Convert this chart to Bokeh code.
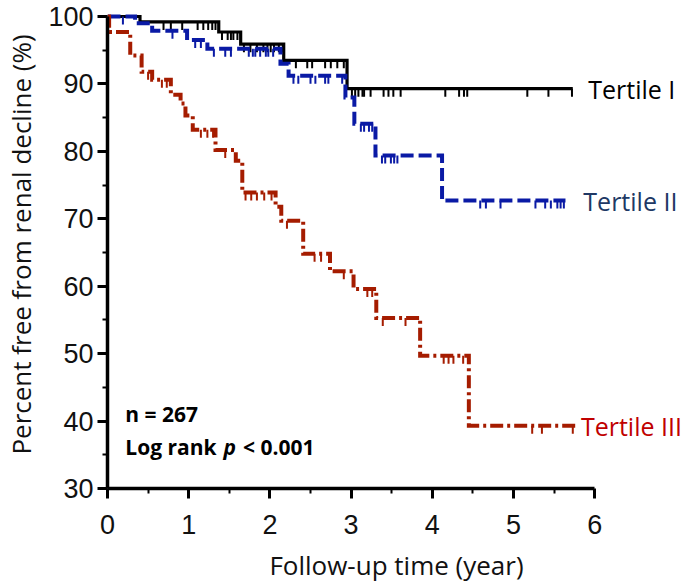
from bokeh.plotting import figure
from bokeh.models import Range1d, FixedTicker, Label
from bokeh.embed import file_html
from bokeh.resources import INLINE

# ---------------- data ----------------
# Tertile I (black, solid)
t1_times = [0.0, 0.40, 1.37, 1.64, 2.17, 2.95]
t1_surv = [100.0, 99.2, 97.7, 95.9, 93.5, 89.3]
t1_end = 5.73
t1_censor = [0.69, 0.78, 0.92, 1.11, 1.18, 1.24, 1.29, 1.33,
             1.41, 1.48, 1.52, 1.55, 1.60,
             1.68, 1.76, 1.84, 1.92, 1.97, 2.01, 2.05, 2.11, 2.16,
             2.32, 2.46, 2.52, 2.68, 2.75, 2.83, 2.91,
             3.01, 3.05, 3.09, 3.14, 3.16, 3.24, 3.40, 3.46, 3.52, 3.61,
             4.16, 4.33, 4.39, 4.43, 5.17, 5.43, 5.72]

# Tertile II (blue, dashed)
t2_times = [0.0, 0.34, 0.55, 0.98, 1.23, 2.13, 2.23, 2.93, 3.04, 3.30, 4.12]
t2_surv = [100.0, 99.0, 97.9, 96.5, 95.2, 93.0, 91.2, 88.0, 84.1, 79.4, 72.7]
t2_end = 5.64
t2_censor = [0.19, 0.80, 1.08, 1.15,
             1.31, 1.45, 1.52, 1.74, 1.79, 1.82, 1.88, 1.95, 1.98, 2.04,
             2.29, 2.35, 2.50, 2.56, 2.68, 2.72, 2.89,
             3.12, 3.16, 3.22, 3.26, 3.38, 3.42, 3.49, 3.53, 3.57,
             4.59, 4.66, 4.84, 5.27, 5.39, 5.46, 5.54, 5.58, 5.62]

# Tertile III (red, dash-dot)
t3_times = [0.0, 0.02, 0.28, 0.42, 0.55, 0.78, 0.90, 0.96, 1.05, 1.33, 1.58,
            1.66, 2.07, 2.14, 2.41, 2.74, 3.03, 3.31, 3.85, 4.45]
t3_surv = [100.0, 97.7, 94.2, 91.8, 90.6, 88.4, 87.1, 85.3, 83.2, 80.2, 78.6,
           73.9, 71.8, 69.7, 64.8, 62.2, 59.6, 55.3, 49.7, 39.3]
t3_end = 5.76
t3_censor = [0.50, 0.67, 0.73, 1.15, 1.23, 1.30, 1.45,
             1.70, 1.77, 1.84, 1.93, 2.02, 2.21, 2.55, 2.63,
             2.91, 3.20, 3.26, 3.39, 3.67, 4.14, 4.20, 4.26, 4.38,
             5.23, 5.35, 5.73]

series_names = ["Tertile I", "Tertile II", "Tertile III"]

x_ticks = [0, 1, 2, 3, 4, 5, 6]
x_minor = [0.5, 1.5, 2.5, 3.5, 4.5, 5.5]
y_ticks = [30, 40, 50, 60, 70, 80, 90, 100]
y_minor = [35, 45, 55, 65, 75, 85, 95]

# ---------------- figure ----------------
W, H = 685, 586
BL, BB = 107, 98
Y0, Y1 = 30, 102.37
X0, X1 = 0, 7.118

p = figure(width=W, height=H, output_backend="svg", toolbar_location=None,
           x_range=Range1d(X0, X1), y_range=Range1d(Y0, Y1),
           min_border_left=BL, min_border_right=0, min_border_top=0,
           min_border_bottom=BB)
p.outline_line_color = None
p.grid.visible = False
p.background_fill_color = "white"
p.border_fill_color = "white"

px_per_y = (H - BB) / (Y1 - Y0)
tick_len = 8 / px_per_y


def level_at(times, surv, t):
    lev = surv[0]
    for tt, s in zip(times, surv):
        if tt <= t:
            lev = s
    return lev


def draw(times, surv, end, censor, color, width, dash):
    xs = list(times) + [end]
    ys = list(surv) + [surv[-1]]
    p.step(xs, ys, mode="after", line_color=color, line_width=width,
           line_dash=dash, line_join="miter")
    lv = [level_at(times, surv, c) for c in censor]
    p.segment(x0=censor, y0=lv, x1=censor, y1=[v - tick_len for v in lv],
              line_color=color, line_width=2)


BLACK = "#000000"
BLUE = "#0a1aa5"
RED = "#a51c00"

draw(t1_times, t1_surv, t1_end, t1_censor, BLACK, 3.2, "solid")
draw(t2_times, t2_surv, t2_end, t2_censor, BLUE, 4, "13 5")
draw(t3_times, t3_surv, t3_end, t3_censor, RED, 4, "13 4 3 4")

# ---------------- axes ----------------
for ax in (p.xaxis[0], p.yaxis[0]):
    ax.axis_line_width = 3.5
    ax.axis_line_color = "black"
    ax.major_tick_line_width = 3
    ax.major_tick_line_color = "black"
    ax.major_tick_out = 10
    ax.major_tick_in = 0
    ax.minor_tick_line_width = 2
    ax.minor_tick_line_color = "black"
    ax.minor_tick_out = 5
    ax.minor_tick_in = 0
    ax.major_label_text_font = "Liberation Sans"
    ax.major_label_text_font_size = "27px"
    ax.major_label_text_color = "#111111"
    ax.axis_label_text_font = "Open Sans"
    ax.axis_label_text_font_style = "normal"
    ax.axis_label_text_font_size = "26px"
    ax.axis_label_text_color = "#111111"

p.xaxis[0].ticker = FixedTicker(ticks=x_ticks, minor_ticks=x_minor)
p.yaxis[0].ticker = FixedTicker(ticks=y_ticks, minor_ticks=y_minor)
p.xaxis[0].bounds = (0, 6)
p.yaxis[0].bounds = (30, 100)
p.xaxis[0].axis_label = "Follow-up time (year)"
p.yaxis[0].axis_label = "Percent free from renal decline (%)"
p.xaxis[0].major_label_standoff = 16
p.xaxis[0].axis_label_standoff = 10
p.yaxis[0].major_label_standoff = 4
p.yaxis[0].axis_label_standoff = 6

# ---------------- series labels ----------------
lab_font = "Open Sans"
p.add_layout(Label(x=5.92, y=t1_surv[-1], text=series_names[0],
                   text_font=lab_font, text_font_size="25px",
                   text_color="#000000", text_baseline="middle"))
p.add_layout(Label(x=5.86, y=t2_surv[-1], text=series_names[1],
                   text_font=lab_font, text_font_size="25px",
                   text_color="#203864", text_baseline="middle"))
p.add_layout(Label(x=5.83, y=t3_surv[-1], text=series_names[2],
                   text_font=lab_font, text_font_size="25px",
                   text_color="#c00000", text_baseline="middle"))

# ---------------- annotation ----------------
ann = dict(text_font=lab_font, text_font_size="21px", text_color="black",
           text_font_style="bold", text_baseline="middle")
p.add_layout(Label(x=0.22, y=41.0, text="n = 267", **ann))
p.add_layout(Label(x=0.22, y=36.1, text="Log rank", **ann))
ann_i = dict(ann)
ann_i["text_font_style"] = "bold italic"
p.add_layout(Label(x=1.43, y=36.1, text="p", **ann_i))
p.add_layout(Label(x=1.67, y=36.1, text="< 0.001", **ann))

open("out.html", "w").write(file_html(p, INLINE))
